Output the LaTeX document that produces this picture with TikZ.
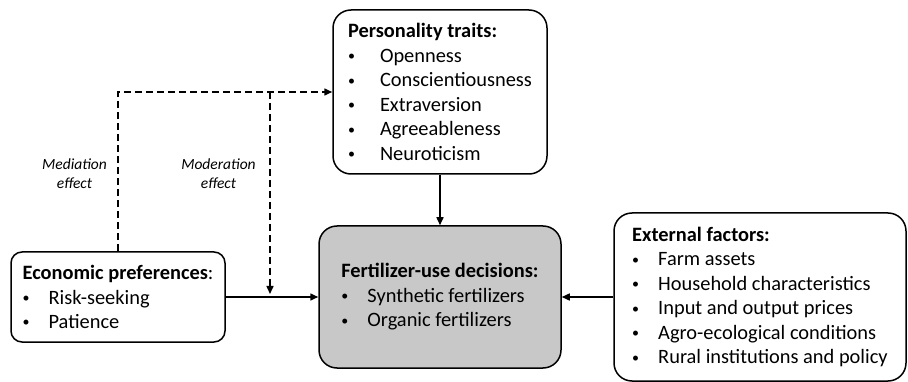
\documentclass[tikz,border=0pt]{standalone}
\usepackage{fontspec}
\setmainfont{Carlito}
\usetikzlibrary{arrows.meta}
\definecolor{boxgray}{RGB}{200,200,200}
\newcommand{\itm}[2][26pt]{\makebox[#1][l]{\raisebox{1.6pt}{\fontsize{14}{14}\selectfont\textbullet}}#2}

\begin{document}
\begin{tikzpicture}[x=1pt,y=-1pt,
	box/.style={draw=black,line width=1.5pt,rounded corners=18pt,align=left,inner sep=0pt,font=\fontsize{20.4}{24.5}\selectfont},
	lab/.style={align=center,font=\fontsize{15.5}{19}\selectfont\itshape},
	link/.style={line width=1.5pt,-{Triangle[length=8pt,width=7pt]}},
	dashlink/.style={link,dash pattern=on 7pt off 4pt}]
	\useasboundingbox (0,0) rectangle (908,382);

	\node[box,minimum width=214pt,minimum height=164pt] (pers) at (440,92) {\textbf{Personality traits:}\\\itm[32pt]{Openness}\\\itm[32pt]{Conscientiousness}\\\itm[32pt]{Extraversion}\\\itm[32pt]{Agreeableness}\\\itm[32pt]{Neuroticism}};
	\node[box,fill=boxgray,minimum width=242pt,minimum height=142pt] (fert) at (440,297) {\textbf{Fertilizer-use decisions:}\\\itm{Synthetic fertilizers}\\\itm{Organic fertilizers}};
	\node[box,rounded corners=11pt,minimum width=214pt,minimum height=90pt] (econ) at (118,297) {\textbf{Economic preferences}:\\\itm{Risk-seeking}\\\itm{Patience}};
	\node[box,minimum width=292pt,minimum height=168pt] (ext) at (760,297) {\textbf{External factors:}\\\itm{Farm assets}\\\itm{Household characteristics}\\\itm{Input and output prices}\\\itm{Agro-ecological conditions}\\\itm{Rural institutions and policy}};

	\node[lab] (medlab) at (74.5,174) {Mediation\\effect};
	\node[lab] (modlab) at (218.5,174) {Moderation\\effect};

	\coordinate (modtop) at (270,92);

	\draw[link] (econ) -- (fert);
	\draw[link] (pers) -- (fert);
	\draw[link] (ext) -- (fert);
	\draw[dashlink] (econ.north) |- (pers.west);
	\draw[dashlink,shorten >=3pt] (modtop) -- (modtop |- econ.east);
\end{tikzpicture}
\end{document}
